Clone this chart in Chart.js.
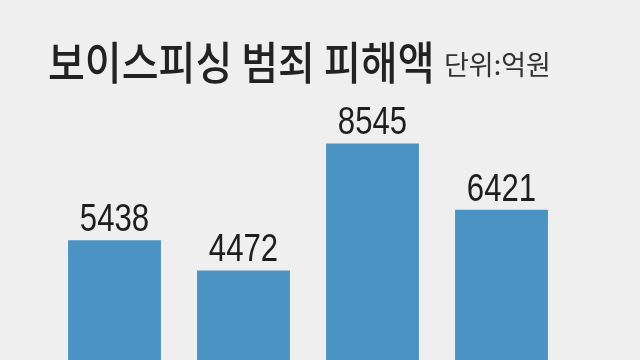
<!DOCTYPE html>
<html>
<head>
<meta charset="utf-8">
<script src="https://cdn.jsdelivr.net/npm/chart.js@4"></script>
<style>
  html, body { margin: 0; padding: 0; background: #efefef; overflow: hidden; }
  #wrap { position: relative; width: 640px; height: 360px; overflow: hidden; }
  #box { position: absolute; left: 0; top: 0; width: 640px; height: 410px; }
  .title {
    position: absolute; left: 48px; top: 38px;
    font-family: "Noto Sans CJK KR", sans-serif; font-weight: 500;
    font-size: 45px; line-height: 45px; color: #222; white-space: nowrap;
    transform: scaleX(0.89); transform-origin: left top;
  }
  .unit {
    position: absolute; left: 444px; top: 50px;
    font-family: "Noto Sans CJK KR", sans-serif; font-weight: 400;
    font-size: 27px; line-height: 27px; color: #333; white-space: nowrap;
    transform: scaleX(1.0); transform-origin: left top;
  }
</style>
</head>
<body>
<div id="wrap">
  <div id="box"><canvas id="chart"></canvas></div>
  <div class="title">보이스피싱 범죄 피해액</div>
  <div class="unit">단위:억원</div>
</div>
<script>
// Data
const categories = ['1', '2', '3', '4'];
const damage = [5438, 4472, 8545, 6421];

// Draw value labels above bars (narrow digits)
const valueLabels = {
    id: 'valueLabels',
    afterDatasetsDraw(chart) {
        const ctx = chart.ctx;
        const meta = chart.getDatasetMeta(0);
        ctx.save();
        ctx.fillStyle = '#1e1e1e';
        ctx.font = '38px "Liberation Sans", sans-serif';
        ctx.textAlign = 'center';
        ctx.textBaseline = 'alphabetic';
        meta.data.forEach((bar, i) => {
            ctx.save();
            ctx.translate(bar.x, bar.y - 9);
            ctx.scale(0.82, 1);
            ctx.fillText(String(damage[i]), 0, 0);
            ctx.restore();
        });
        ctx.restore();
    }
};

const ctx = document.getElementById('chart').getContext('2d');
const chart = new Chart(ctx, {
    type: 'bar',
    data: {
        labels: categories,
        datasets: [{
            data: damage,
            backgroundColor: '#4a93c3',
            borderWidth: 0,
            categoryPercentage: 0.8,
            barPercentage: 0.9
        }]
    },
    options: {
        responsive: true,
        maintainAspectRatio: false,
        animation: false,
        layout: { padding: { left: 50, right: 74, top: 98, bottom: 0 } },
        plugins: {
            legend: { display: false },
            tooltip: { enabled: false }
        },
        scales: {
            x: { display: false },
            y: { display: false, min: 0, max: 10000 }
        }
    },
    plugins: [valueLabels]
});
</script>
</body>
</html>
